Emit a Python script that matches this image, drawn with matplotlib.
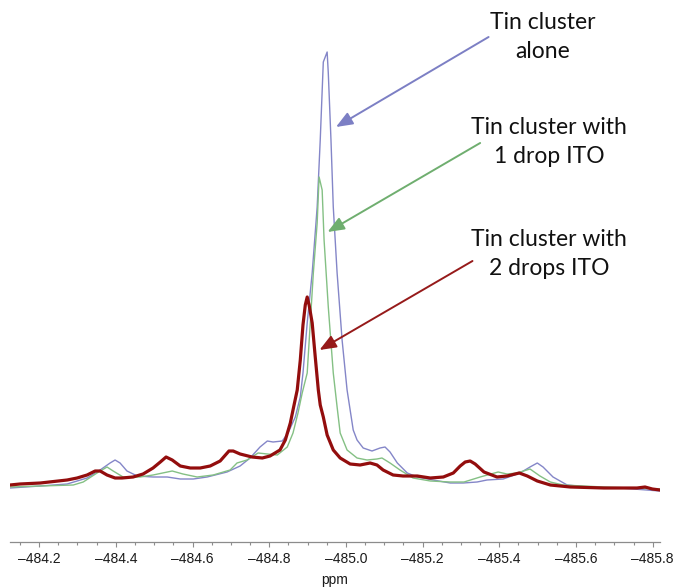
import matplotlib
matplotlib.use("Agg")
import matplotlib.pyplot as plt
from matplotlib.ticker import MultipleLocator, FuncFormatter

# 119Sn NMR region around -485 ppm: three samples
ppm_alone = [-484.124, -484.203, -484.273, -484.325, -484.359, -484.385, -484.398, -484.411,
             -484.429, -484.456, -484.497, -484.534, -484.568, -484.602, -484.638, -484.690,
             -484.724, -484.750, -484.776, -484.795, -484.810, -484.834, -484.849, -484.868,
             -484.881, -484.888, -484.899, -484.912, -484.925, -484.933, -484.941, -484.951,
             -484.954, -484.961, -484.967, -484.977, -484.990, -485.003, -485.019, -485.029,
             -485.045, -485.068, -485.089, -485.102, -485.115, -485.134, -485.160, -485.186,
             -485.227, -485.272, -485.306, -485.342, -485.368, -485.410, -485.454, -485.480,
             -485.499, -485.514, -485.540, -485.577, -485.629, -485.715, -485.819]
int_alone = [2, 4, 6, 12, 20, 27, 30, 27,
             19, 14, 13, 13, 11, 11, 13, 18,
             24, 32, 43, 49, 48, 49, 57, 73,
             93, 117, 167, 217, 283, 350, 428, 438,
             417, 350, 283, 217, 150, 100, 60, 50,
             42, 39, 42, 43, 38, 27, 17, 13,
             10, 7, 7, 8, 10, 11, 17, 23,
             27, 23, 13, 5, 3, 2, -1]

ppm_1drop = [-484.124, -484.203, -484.289, -484.315, -484.351, -484.377, -484.393, -484.419,
             -484.463, -484.497, -484.547, -484.575, -484.612, -484.654, -484.698, -484.716,
             -484.742, -484.771, -484.795, -484.821, -484.847, -484.862, -484.875, -484.886,
             -484.899, -484.907, -484.915, -484.925, -484.930, -484.938, -484.943, -484.954,
             -484.967, -484.972, -484.977, -484.985, -485.003, -485.029, -485.055, -485.081,
             -485.094, -485.115, -485.141, -485.175, -485.220, -485.272, -485.308, -485.350,
             -485.397, -485.420, -485.446, -485.480, -485.506, -485.533, -485.566, -485.671,
             -485.819]
int_1drop = [3, 4, 5, 8, 17, 23, 19, 13,
             13, 15, 19, 16, 13, 15, 20, 27,
             30, 37, 36, 35, 43, 57, 77, 97,
             117, 167, 217, 267, 313, 300, 250, 183,
             117, 100, 83, 57, 40, 32, 30, 31,
             32, 27, 20, 12, 9, 8, 8, 13,
             18, 16, 17, 21, 14, 8, 5, 3,
             1]

ppm_2drops = [-484.124, -484.150, -484.203, -484.273, -484.299, -484.325, -484.346, -484.359,
              -484.377, -484.398, -484.416, -484.445, -484.471, -484.497, -484.516, -484.531,
              -484.547, -484.568, -484.594, -484.620, -484.646, -484.672, -484.695, -484.706,
              -484.724, -484.755, -484.782, -484.802, -484.828, -484.842, -484.855, -484.862,
              -484.873, -484.881, -484.888, -484.894, -484.899, -484.904, -484.912, -484.920,
              -484.928, -484.933, -484.941, -484.951, -484.967, -484.985, -485.011, -485.037,
              -485.063, -485.081, -485.097, -485.123, -485.149, -485.186, -485.220, -485.254,
              -485.280, -485.298, -485.311, -485.324, -485.337, -485.360, -485.394, -485.420,
              -485.452, -485.473, -485.499, -485.533, -485.585, -485.673, -485.759, -485.780,
              -485.799, -485.819]
int_2drops = [5, 6, 7, 10, 12, 15, 19, 19,
              15, 12, 12, 13, 16, 22, 28, 33,
              30, 24, 22, 22, 24, 29, 39, 39,
              36, 33, 32, 34, 40, 50, 67, 80,
              100, 130, 165, 185, 193, 185, 167, 133,
              100, 85, 73, 55, 40, 32, 26, 25,
              27, 25, 20, 15, 14, 14, 12, 13,
              17, 24, 28, 29, 26, 18, 13, 14,
              17, 14, 9, 5, 3, 2, 2, 3,
              1, 0]

labels = ["Tin cluster\nalone", "Tin cluster with\n1 drop ITO", "Tin cluster with\n2 drops ITO"]
label_pos = [(-485.514, 453), (-485.530, 348), (-485.530, 236)]
arrow_tail = [(-485.372, 453), (-485.350, 347), (-485.330, 229)]
arrow_head = [(-484.974, 363), (-484.952, 258), (-484.931, 140)]

c_alone = "#8486c8"
c_1drop = "#84c084"
c_2drops = "#930d0d"
arrow_colors = ["#7c7fc4", "#6fae6f", "#961a1a"]

fig = plt.figure(figsize=(6.77, 5.88), dpi=100)
ax = fig.add_axes([10 / 677, 46 / 588, 650 / 677, 542 / 588])

ax.plot(ppm_alone, int_alone, color=c_alone, lw=1.0, solid_joinstyle="round")
ax.plot(ppm_1drop, int_1drop, color=c_1drop, lw=1.0, solid_joinstyle="round")
ax.plot(ppm_2drops, int_2drops, color=c_2drops, lw=2.3, solid_joinstyle="round")

ax.set_xlim(-484.124, -485.819)
ax.set_ylim(-52, 490)

for side in ("left", "right", "top"):
    ax.spines[side].set_visible(False)
ax.spines["bottom"].set_color("#8c8c8c")
ax.spines["bottom"].set_linewidth(0.9)
ax.set_yticks([])

ax.xaxis.set_major_locator(MultipleLocator(0.2))
ax.xaxis.set_minor_locator(MultipleLocator(0.05))
ax.xaxis.set_major_formatter(FuncFormatter(lambda v, _: f"{v:.1f}".replace("-", "\u2013")))
ax.tick_params(axis="x", which="major", direction="out", length=3.5, width=0.8,
               color="#8c8c8c", pad=4, labelsize=10, labelcolor="#1a1a1a")
ax.tick_params(axis="x", which="minor", direction="out", length=2.5, width=0.8,
               color="#8c8c8c")
for lab in ax.get_xticklabels():
    lab.set_fontfamily("Liberation Sans")
ax.set_xlabel("ppm", fontsize=10, family="Liberation Sans", color="#1a1a1a", labelpad=5)

for text, pos, tail, head, col in zip(labels, label_pos, arrow_tail, arrow_head, arrow_colors):
    ax.text(pos[0], pos[1], text, ha="center", va="center", fontsize=16.5,
            family="Lato", color="#111111", linespacing=1.5)
    ax.annotate("", xy=head, xytext=tail,
                arrowprops=dict(arrowstyle="-|>,head_length=1.0,head_width=0.4",
                                color=col, lw=1.4, shrinkA=0, shrinkB=0))

fig.savefig("out.png", dpi=100)
